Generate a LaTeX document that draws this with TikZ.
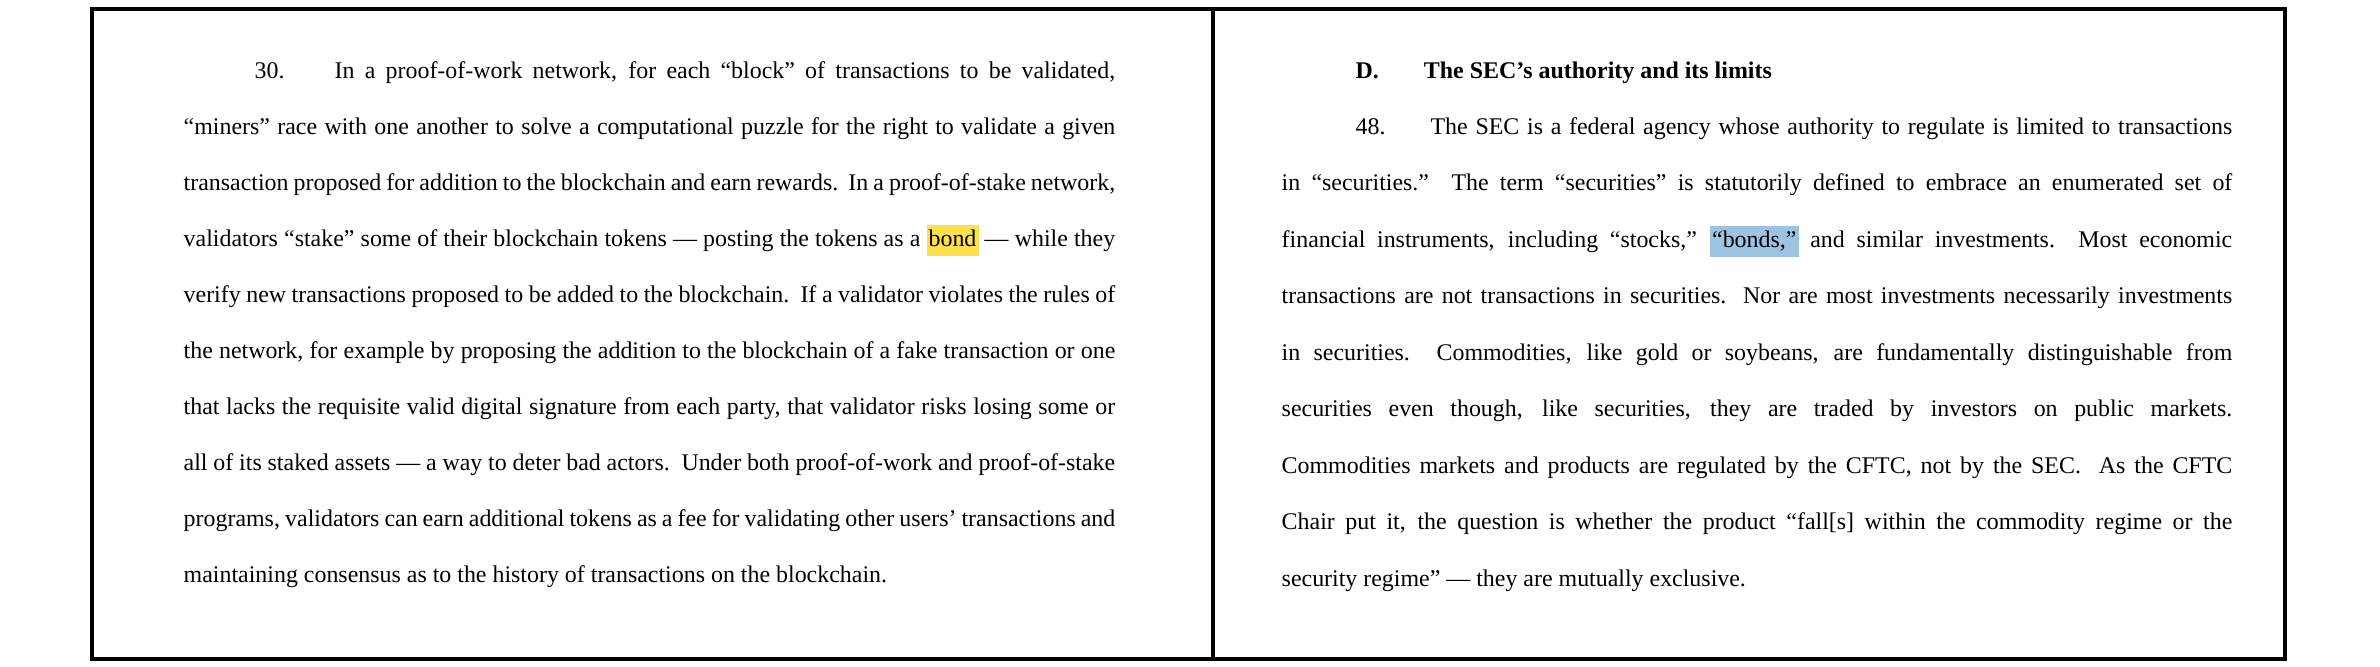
\documentclass[tikz,border=0pt]{standalone}
\usepackage{fontspec}
\setmainfont{Liberation Serif}
\definecolor{hlyellow}{HTML}{FCE14B}
\definecolor{hlblue}{HTML}{9CC3E2}
\newcommand{\jline}[2]{\makebox[#1][s]{#2}}
\newcommand{\hl}[2]{{\setlength{\fboxsep}{0.6pt}\colorbox{#1}{\strut #2}}}
\tikzset{
  panel/.style={draw=black, line width=1.2pt},
  txt/.style={anchor=base west, inner sep=0pt, font=\fontsize{6.8}{7.5}\selectfont}
}
\begin{document}
\begin{tikzpicture}[x=0.01cm, y=-0.01cm]
  \useasboundingbox (0,0) rectangle (2380,666);
  \draw[panel] (92,9) rectangle (1213,659);
  \draw[panel] (1213,9) rectangle (2285,659);
  % left column
  \node[txt] (l1) at (254,78) {\jline{8.60cm}{30.\hspace{0.5cm}In a proof-of-work network, for each ``block'' of transactions to be validated,}};
  \node[txt] (l2) at (183,134) {\jline{9.31cm}{``miners'' race with one another to solve a computational puzzle for the right to validate a given}};
  \node[txt] (l3) at (183,190) {\jline{9.31cm}{transaction proposed for addition to the blockchain and earn rewards.\ \ In a proof-of-stake network,}};
  \node[txt] (l4) at (183,246) {\jline{9.31cm}{validators ``stake'' some of their blockchain tokens --- posting the tokens as a \hl{hlyellow}{bond} --- while they}};
  \node[txt] (l5) at (183,302) {\jline{9.31cm}{verify new transactions proposed to be added to the blockchain.\ \ If a validator violates the rules of}};
  \node[txt] (l6) at (183,358) {\jline{9.31cm}{the network, for example by proposing the addition to the blockchain of a fake transaction or one}};
  \node[txt] (l7) at (183,414) {\jline{9.31cm}{that lacks the requisite valid digital signature from each party, that validator risks losing some or}};
  \node[txt] (l8) at (183,470) {\jline{9.31cm}{all of its staked assets --- a way to deter bad actors.\ \ Under both proof-of-work and proof-of-stake}};
  \node[txt] (l9) at (183,526) {\jline{9.31cm}{programs, validators can earn additional tokens as a fee for validating other users' transactions and}};
  \node[txt] (l10) at (183,582) {maintaining consensus as to the history of transactions on the blockchain.};
  % right column
  \node[txt] (r0) at (1355,78) {\textbf{D.\hspace{0.45cm}The SEC's authority and its limits}};
  \node[txt] (r1) at (1355,134) {\jline{8.76cm}{48.\hspace{0.45cm}The SEC is a federal agency whose authority to regulate is limited to transactions}};
  \node[txt] (r2) at (1281,190) {\jline{9.50cm}{in ``securities.''\ \ The term ``securities'' is statutorily defined to embrace an enumerated set of}};
  \node[txt] (r3) at (1281,247) {\jline{9.50cm}{financial instruments, including ``stocks,'' \hl{hlblue}{``bonds,''} and similar investments.\ \ Most economic}};
  \node[txt] (r4) at (1281,303) {\jline{9.50cm}{transactions are not transactions in securities.\ \ Nor are most investments necessarily investments}};
  \node[txt] (r5) at (1281,360) {\jline{9.50cm}{in securities.\ \ Commodities, like gold or soybeans, are fundamentally distinguishable from}};
  \node[txt] (r6) at (1281,416) {\jline{9.50cm}{securities even though, like securities, they are traded by investors on public markets.}};
  \node[txt] (r7) at (1281,473) {\jline{9.50cm}{Commodities markets and products are regulated by the CFTC, not by the SEC.\ \ As the CFTC}};
  \node[txt] (r8) at (1281,529) {\jline{9.50cm}{Chair put it, the question is whether the product ``fall[s] within the commodity regime or the}};
  \node[txt] (r9) at (1281,586) {security regime'' --- they are mutually exclusive.};
\end{tikzpicture}
\end{document}
